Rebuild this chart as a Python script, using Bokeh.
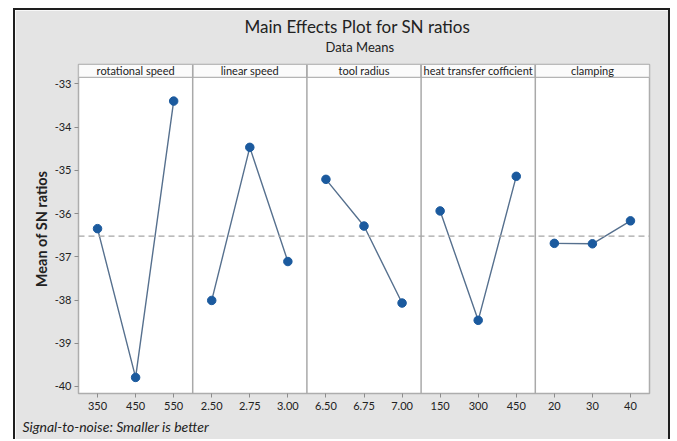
import numpy as np
from bokeh.plotting import figure
from bokeh.models import Range1d, FixedTicker, Span, Title, ColumnDataSource
from bokeh.core.properties import value
from bokeh.embed import file_html
from bokeh.resources import INLINE

# ---------------- data ----------------
factors = ["rotational speed", "linear speed", "tool radius",
           "heat transfer cofficient", "clamping"]
level_labels = [["350", "450", "550"],
                ["2.50", "2.75", "3.00"],
                ["6.50", "6.75", "7.00"],
                ["150", "300", "450"],
                ["20", "30", "40"]]
rotational_speed = [-36.35, -39.79, -33.40]
linear_speed = [-38.01, -34.47, -37.11]
tool_radius = [-35.21, -36.29, -38.07]
heat_transfer_cofficient = [-35.94, -38.47, -35.14]
clamping = [-36.69, -36.70, -36.17]
series = [rotational_speed, linear_speed, tool_radius,
          heat_transfer_cofficient, clamping]
y_ticks = [-40, -39, -38, -37, -36, -35, -34, -33]

title_text = "Main Effects Plot for SN ratios"
subtitle_text = "Data Means"
y_label = "Mean of SN ratios"
footnote_text = "Signal-to-noise: Smaller is better"

# ---------------- layout constants ----------------
FONT = "Lato"
BG = "#E4E4E4"
TXT = "#222222"
W, H = 657, 431
Y_BOTTOM, Y_TOP = -40.162, -32.554
STRIP_BOTTOM = -32.854
nlev = 3
nfac = len(factors)

p = figure(width=W, height=H,
           x_range=Range1d(0.5, nfac * nlev + 0.5),
           y_range=Range1d(Y_BOTTOM, Y_TOP),
           output_backend="svg", toolbar_location=None,
           min_border_left=63, min_border_right=23,
           min_border_top=54, min_border_bottom=48,
           border_fill_color=BG, background_fill_color="white",
           outline_line_color="#ADADAD", outline_line_width=1.5)
p.xgrid.visible = False
p.ygrid.visible = False

# axes
tick_pos = []
overrides = {}
for i, labs in enumerate(level_labels):
    for j, lab in enumerate(labs):
        pos = i * nlev + j + 1
        tick_pos.append(pos)
        overrides[pos] = lab
p.xaxis.ticker = FixedTicker(ticks=tick_pos)
p.xaxis.major_label_overrides = overrides
p.yaxis.ticker = FixedTicker(ticks=y_ticks)
p.yaxis.major_label_overrides = {t: str(t) for t in y_ticks}
for ax in (p.xaxis[0], p.yaxis[0]):
    ax.axis_line_color = None
    ax.major_tick_in = 0
    ax.major_tick_out = 4
    ax.major_tick_line_color = "#8C8C8C"
    ax.minor_tick_line_color = None
    ax.major_label_text_font = FONT
    ax.major_label_text_font_size = "11px"
    ax.major_label_text_color = TXT
p.xaxis.major_label_standoff = 4
p.yaxis.major_label_standoff = 3
p.yaxis.axis_label = y_label
p.yaxis.axis_label_text_font = FONT
p.yaxis.axis_label_text_font_size = "14.5px"
p.yaxis.axis_label_text_font_style = "bold"
p.yaxis.axis_label_text_color = TXT
p.yaxis.axis_label_standoff = 2

# strip headers
strip = ColumnDataSource(dict(
    left=[i * nlev + 0.5 for i in range(nfac)],
    right=[(i + 1) * nlev + 0.5 for i in range(nfac)],
    cx=[i * nlev + (nlev + 1) / 2 for i in range(nfac)],
    name=factors))
p.quad(left="left", right="right", bottom=STRIP_BOTTOM, top=Y_TOP,
       source=strip, fill_color="#FBFBFB", line_color="#B4B4B4", line_width=1.2)
p.text(x="cx", y=(STRIP_BOTTOM + Y_TOP) / 2, text="name", source=strip,
       text_font=value(FONT), text_font_size="11px", text_color=TXT,
       text_align="center", text_baseline="middle")

# panel dividers
for i in range(1, nfac):
    p.add_layout(Span(location=i * nlev + 0.5, dimension="height",
                      line_color="#A9A9A9", line_width=1.5))

# grand mean reference line
grand_mean = float(np.mean([v for s in series for v in s]))
p.add_layout(Span(location=grand_mean, dimension="width",
                  line_color="#A5A5A5", line_width=1.2, line_dash="6 4"))

# data
for i, vals in enumerate(series):
    src = ColumnDataSource(dict(x=[i * nlev + j + 1 for j in range(len(vals))], y=vals))
    p.line("x", "y", source=src, line_color="#56708E", line_width=1.4)
    p.scatter("x", "y", source=src, size=8.5, fill_color="#1B5A9E",
              line_color="#1B5A9E")

# titles and footnote
p.add_layout(Title(text=subtitle_text, align="left", offset=247, standoff=19,
                   vertical_align="bottom",
                   text_font=FONT, text_font_size="13px",
                   text_font_style="normal", text_color=TXT), "above")
p.add_layout(Title(text=title_text, align="left", offset=166, standoff=-18,
                   vertical_align="bottom",
                   text_font=FONT, text_font_size="17px",
                   text_font_style="normal", text_color=TXT), "above")
p.add_layout(Title(text=footnote_text, align="left", offset=-56, standoff=7,
                   vertical_align="bottom",
                   text_font=FONT, text_font_size="14px",
                   text_font_style="italic", text_color=TXT), "below")

p.styles = {"margin-left": "13px", "margin-top": "8px",
            "border-left": "2px solid #1E1E1E",
            "border-top": "2px solid #1E1E1E",
            "border-right": "2px solid #1E1E1E"}

open("out.html", "w").write(file_html(p, INLINE))
